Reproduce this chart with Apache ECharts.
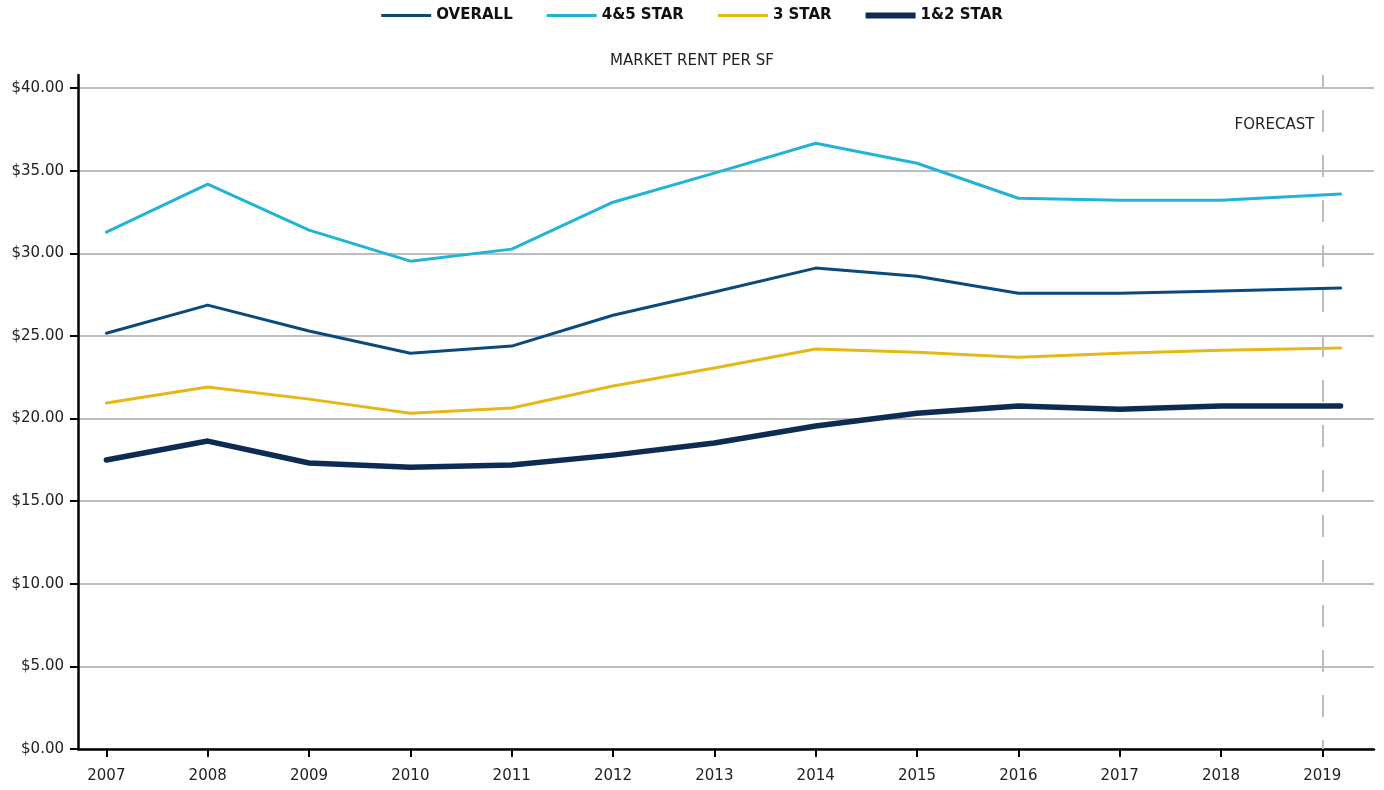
<!DOCTYPE html>
<html lang="en">
<head>
    <meta charset="UTF-8">
    <title>Market Rent Per SF</title>
    <style>
        html, body { margin: 0; padding: 0; background: #fff; }
        #chart { width: 1384px; height: 790px; }
    </style>
</head>
<body>
<div id="chart"></div>
<script src="https://cdn.jsdelivr.net/npm/echarts@6/dist/echarts.min.js"></script>
<script type="text/javascript">
    // x positions of the points (last one is the partial 2019 forecast point)
    var years = [2007, 2008, 2009, 2010, 2011, 2012, 2013, 2014, 2015, 2016, 2017, 2018, 2019.18];
    var yearTicks = [2007, 2008, 2009, 2010, 2011, 2012, 2013, 2014, 2015, 2016, 2017, 2018, 2019];
    var rentTicks = [0, 5, 10, 15, 20, 25, 30, 35, 40];
    var forecastYear = 2019;

    var overall = [25.17, 26.87, 25.30, 23.96, 24.39, 26.26, 27.66, 29.11, 28.62, 27.59, 27.59, 27.72, 27.90];
    var star45  = [31.29, 34.19, 31.41, 29.53, 30.26, 33.10, 34.86, 36.67, 35.46, 33.34, 33.22, 33.22, 33.59];
    var star3   = [20.94, 21.91, 21.18, 20.33, 20.64, 21.97, 23.06, 24.21, 24.02, 23.72, 23.96, 24.14, 24.27];
    var star12  = [17.49, 18.64, 17.31, 17.06, 17.19, 17.79, 18.52, 19.55, 20.33, 20.76, 20.57, 20.76, 20.76];

    var fontFamily = '"DejaVu Sans", "Noto Sans", sans-serif';

    // legend swatches: a bar inside a fixed 50x6 box (the moveTo points pin the box)
    var thinIcon = 'path://M0,0 M0,1.4 L50,1.4 L50,4.6 L0,4.6 Z M50,6';
    var thickIcon = 'path://M0,0 L50,0 L50,6 L0,6 Z';

    function pairs(vals) {
        return vals.map(function (v, i) { return [years[i], v]; });
    }

    function lineSeries(name, vals, color, width) {
        return {
            name: name,
            type: 'line',
            data: pairs(vals),
            symbol: 'none',
            smooth: false,
            lineStyle: { color: color, width: width, cap: 'round', join: 'round' },
            itemStyle: { color: color },
            emphasis: { disabled: true }
        };
    }

    var dom = document.getElementById('chart');
    var chart = echarts.init(dom, null, { renderer: 'canvas' });

    var series = [
        lineSeries('OVERALL', overall, '#0b4a7e', 3),
        lineSeries('4&5 STAR', star45, '#22b4d6', 3),
        lineSeries('3 STAR', star3, '#e7b716', 3),
        lineSeries('1&2 STAR', star12, '#0e2b53', 5.5)
    ];

    // forecast divider, drawn top-down so the dash pattern lines up
    series[0].markLine = {
        silent: true,
        symbol: 'none',
        label: { show: false },
        lineStyle: { color: '#bdbdbd', width: 2, type: [22, 23], dashOffset: 10 },
        data: [[{ coord: [forecastYear, 40.8] }, { coord: [forecastYear, 0] }]]
    };

    var option = {
        animation: false,
        backgroundColor: '#fff',
        textStyle: { fontFamily: fontFamily },
        title: {
            text: 'MARKET RENT PER SF',
            left: 'center',
            top: 49,
            textStyle: { fontFamily: fontFamily, fontSize: 15, fontWeight: 'normal', color: '#222' }
        },
        legend: {
            top: 3,
            left: 'center',
            itemWidth: 50,
            itemHeight: 6,
            itemGap: 34,
            symbolKeepAspect: false,
            textStyle: { fontFamily: fontFamily, fontSize: 15, fontWeight: 'bold', color: '#111' },
            data: [
                { name: 'OVERALL', icon: thinIcon },
                { name: '4&5 STAR', icon: thinIcon },
                { name: '3 STAR', icon: thinIcon },
                { name: '1&2 STAR', icon: thickIcon }
            ]
        },
        grid: { left: 78, right: 10, top: 75, bottom: 41, containLabel: false },
        xAxis: {
            type: 'value',
            min: 2006.72,
            max: 2019.51,
            splitLine: { show: false },
            axisLine: { lineStyle: { color: '#000', width: 2.5 } },
            axisTick: { show: true, customValues: yearTicks, length: 8, lineStyle: { color: '#000', width: 2 } },
            axisLabel: {
                customValues: yearTicks,
                formatter: function (v) { return String(v); },
                color: '#222', fontSize: 15, margin: 20, fontFamily: fontFamily
            }
        },
        yAxis: {
            type: 'value',
            min: 0,
            max: 40.8,
            splitLine: { show: true, lineStyle: { color: '#bdbdbd', width: 2 } },
            axisLine: { show: true, lineStyle: { color: '#000', width: 2.5 } },
            axisTick: { show: true, customValues: rentTicks, length: 8, lineStyle: { color: '#000', width: 2 } },
            axisLabel: {
                customValues: rentTicks,
                formatter: function (v) { return '$' + v.toFixed(2); },
                color: '#222', fontSize: 15, margin: 14, fontFamily: fontFamily
            }
        },
        series: series
    };

    chart.setOption(option);

    // place the FORECAST note just left of the divider, near the top
    var p = chart.convertToPixel({ gridIndex: 0 }, [forecastYear, 37.75]);
    chart.setOption({
        graphic: [{
            type: 'text',
            x: p[0] - 8,
            y: p[1],
            style: {
                text: 'FORECAST',
                fontFamily: fontFamily,
                fontSize: 15,
                fill: '#222',
                align: 'right',
                verticalAlign: 'middle'
            }
        }]
    });
</script>
</body>
</html>
